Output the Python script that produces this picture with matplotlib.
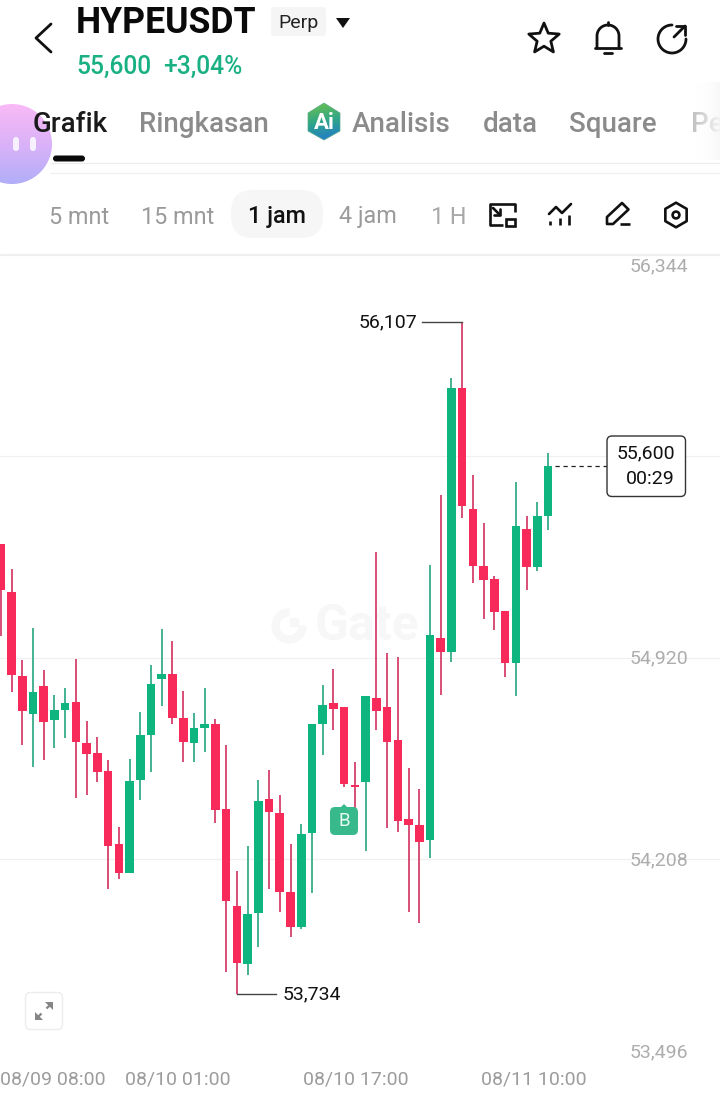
import numpy as np
import matplotlib
matplotlib.use("Agg")
import matplotlib.pyplot as plt
from matplotlib.patches import Circle, Polygon, FancyBboxPatch, Rectangle, Wedge
from matplotlib.colors import LinearSegmentedColormap

plt.rcParams['font.family'] = ['Roboto', 'DejaVu Sans']

# ---------- data ----------
opens = [55323, 55153, 54856, 54722, 54821, 54701, 54736, 54764, 54620, 54584,
         54521, 54263, 54160, 54489, 54648, 54846, 54863, 54708, 54620, 54673,
         54687, 54386, 54044, 53839, 54019, 54422, 54372, 54093, 53970, 54302,
         54687, 54761, 54747, 54471, 54482, 54779, 54747, 54630, 54351, 54330,
         54277, 54991, 54941, 55874, 55446, 55245, 55199, 55086, 54902, 55376,
         55241, 55422]
closes = [55160, 54860, 54733, 54800, 54694, 54736, 54761, 54623, 54581, 54517,
          54256, 54160, 54485, 54648, 54828, 54863, 54708, 54623, 54673, 54687,
          54383, 54061, 53842, 54015, 54415, 54376, 54093, 53970, 54298, 54687,
          54754, 54740, 54475, 54468, 54786, 54733, 54623, 54344, 54330, 54270,
          55001, 54941, 55874, 55457, 55245, 55196, 55083, 54902, 55386, 55241,
          55422, 55600]
highs = [55323, 55234, 54913, 55026, 54878, 54789, 54814, 54916, 54697, 54641,
         54560, 54323, 54563, 54729, 54895, 55022, 54980, 54803, 54726, 54814,
         54704, 54613, 54167, 54256, 54489, 54524, 54436, 54263, 54333, 54687,
         54825, 54881, 54747, 54553, 54786, 55295, 54938, 54923, 54531, 54457,
         55249, 55496, 55909, 56107, 55567, 55397, 55210, 55086, 55542, 55422,
         55471, 55644]
lows = [54998, 54800, 54613, 54535, 54560, 54602, 54637, 54425, 54436, 54482,
        54104, 54139, 54160, 54418, 54517, 54750, 54687, 54553, 54553, 54588,
        54337, 53810, 53734, 53800, 53899, 54104, 54023, 53934, 53962, 54090,
        54577, 54666, 54464, 54390, 54238, 54666, 54319, 54305, 54023, 53984,
        54213, 54789, 54906, 55415, 55185, 55058, 55019, 54853, 54786, 55160,
        55227, 55372]
price_ticks = [56344, 55632, 54920, 54208, 53496]
price_labels = ['56,344', '', '54,920', '54,208', '53,496']
time_positions = [4.86, 16.5, 33.1, 49.7]
time_labels = ['08/09 08:00', '08/10 01:00', '08/10 17:00', '08/11 10:00']
high_index, low_index = 43, 22
last_price = 55600

GREEN = '#0fb57e'
RED = '#f72a5a'
GREEN_W = '#35ad88'
RED_W = '#d4406c'

W, H = 720, 1094
fig = plt.figure(figsize=(W / 100, H / 100), dpi=100, facecolor='white')

# ---------- pixel-based overlay for the app chrome ----------
ui = fig.add_axes([0, 0, 1, 1], zorder=5)
ui.patch.set_alpha(0)
ui.axis('off')


def line(pts, lw=1.9, c='#111111', **kw):
    xs, ys = zip(*pts)
    ui.plot(xs, ys, lw=lw, color=c, solid_capstyle=kw.pop('cap', 'round'),
            solid_joinstyle='round', **kw)


def arc(cx, cy, r, a0, a1):
    t = np.radians(np.linspace(a0, a1, 60))
    return list(zip(cx + r * np.cos(t), cy + r * np.sin(t)))


def txt(x, y, s, size, c='#111111', ha='left', weight='normal', **kw):
    return ui.text(x, y, s, fontsize=size, color=c, ha=ha, va='center',
                   fontweight=weight, **kw)


# ---------- chart ----------
top_px, bot_px = 255, 1061
ax = fig.add_axes([0, 1 - bot_px / H, 1, (bot_px - top_px) / H], zorder=2)
ax.patch.set_alpha(0)
idx = np.arange(len(opens))
xmin = -0.8 / 10.73
ax.set_xlim(xmin, xmin + W / 10.73)
ax.set_ylim(price_ticks[-1], price_ticks[0])
for s in ax.spines.values():
    s.set_visible(False)
ax.set_yticks(price_ticks[:-1])
ax.set_yticklabels([])
ax.tick_params(axis='y', length=0)
ax.grid(axis='y', color='#f0f0f0', lw=0.9)
ax.set_axisbelow(True)
ax.set_xticks(time_positions)
ax.set_xticklabels(time_labels, fontsize=14, color='#9c9c9c')
ax.tick_params(axis='x', length=0, pad=6.8)

o, c, h, l = map(np.array, (opens, closes, highs, lows))
up = c >= o
ax.vlines(idx[up], l[up], h[up], color=GREEN_W, lw=1.3, zorder=3)
ax.vlines(idx[~up], l[~up], h[~up], color=RED_W, lw=1.3, zorder=3)
ax.bar(idx[up], (c - o)[up], bottom=o[up], width=0.8, color=GREEN, zorder=4)
ax.bar(idx[~up], (c - o)[~up], bottom=o[~up], width=0.8, color=RED, zorder=4)
# near-flat body
flat = np.abs(c - o) < 8
ax.hlines(c[flat], idx[flat] - 0.4, idx[flat] + 0.4,
          color=[GREEN if u else RED for u in up[flat]], lw=1.4, zorder=4)

# extreme labels
ax.plot([high_index, high_index - 3.7], [highs[high_index]] * 2, color='#444444', lw=1.0, zorder=3)
ax.annotate('56,107', (high_index - 3.7, highs[high_index]), xytext=(-4.0, -0.3),
            textcoords='offset points', ha='right', va='center', fontsize=14, color='#111111')
ax.plot([low_index, low_index + 3.65], [lows[low_index]] * 2, color='#444444', lw=1.0, zorder=3)
ax.annotate('53,734', (low_index + 3.65, lows[low_index]), xytext=(4.4, -0.8),
            textcoords='offset points', ha='left', va='center', fontsize=14, color='#111111')

# axis labels on the right (the outer two are pushed into the chart)
offsets_px = [11, 0, 0, 0, -9.5]
for p, lab, off in zip(price_ticks, price_labels, offsets_px):
    if lab:
        ax.annotate(lab, (688 / W, p), xycoords=('axes fraction', 'data'),
                    xytext=(0, -off * 0.72 - 0.4), textcoords='offset points',
                    ha='right', va='center', fontsize=14, color='#adadad',
                    annotation_clip=False, zorder=1)

# last-price guide
ax.plot([(555 - 0.8) / 10.73, (607 - 0.8) / 10.73], [last_price] * 2, color='#222222',
        lw=0.9, ls=(0, (3.4, 3)), zorder=3)

# watermark (sits behind candles)
wm = '#f7f7f7'
ax.add_patch(Wedge((289, 626), 17, 0, 270, width=7, color=wm, transform=ui.transData, zorder=0))
ax.add_patch(Rectangle((290, 618), 8, 8, color=wm, transform=ui.transData, zorder=0))
ax.text(315, 627, 'Gate', fontsize=36, fontweight='bold', color=wm, va='center', ha='left',
        transform=ui.transData, zorder=0)

# ---------- header ----------
line([(51, 24), (36, 38), (51, 52)], lw=2.0)
txt(76, 23, 'HYPEUSDT', 25.7, weight='bold', c='#0a0a0a')
ui.add_patch(FancyBboxPatch((271, 7), 55, 29, boxstyle='round,pad=0,rounding_size=3',
                            fc='#f5f5f5', ec='none'))
txt(298, 23, 'Perp', 14, ha='center', c='#222222')
ui.add_patch(Polygon([(336, 18), (350, 18), (343, 28)], fc='#111111', ec='none'))
txt(76, 67, '55,600', 17.7, c='#19b183', weight='medium')
txt(163, 67, '+3,04%', 17.7, c='#19b183', weight='medium')

# star
ang = np.radians(np.arange(10) * 36 - 90)
rad = np.where(np.arange(10) % 2 == 0, 16, 7.2)
ui.add_patch(Polygon(list(zip(544 + rad * np.cos(ang), 39 + rad * np.sin(ang))),
                     fc='none', ec='#111111', lw=2.0, joinstyle='round'))
# bell
bell = [(597, 48)] + arc(608, 36, 11, 180, 360) + [(619, 48)]
line(bell, lw=2.0)
line([(595, 48), (621, 48)], lw=2.0)
line([(604, 52.5), (612, 52.5)], lw=2.0)
line([(608, 22), (608, 24.5)], lw=2.0)
# share
line(arc(672, 39, 14, 0, 270), lw=2.0)
line([(674, 37), (685, 26)], lw=2.0)
line([(676, 26), (685, 26), (685, 35)], lw=2.0)

# tabs
txt(33, 125, 'Grafik', 20, c='#1a1a1a', weight='medium', zorder=5)
txt(139, 125, 'Ringkasan', 20, c='#8b8b8b', weight='medium')
txt(352, 125, 'Analisis', 20, c='#8b8b8b', weight='medium')
txt(483, 125, 'data', 20, c='#8b8b8b', weight='medium')
txt(569, 125, 'Square', 20, c='#8b8b8b', weight='medium')
txt(691, 125, 'Pe', 20, c='#c4c4c4', weight='medium')
fade = np.linspace(0, 1, 40).reshape(1, -1)
ui.imshow(fade, extent=(695, 720, 160, 82), aspect='auto', zorder=3,
          cmap=LinearSegmentedColormap.from_list('f', [(1, 1, 1, 0), (0.97, 0.97, 0.97, 0.9)]))

# AI hexagon
ai_cmap = LinearSegmentedColormap.from_list('ai', ['#6cc24a', '#2fa58a', '#2176d2'])
gy, gx = np.mgrid[0:1:50j, 0:1:50j]
ai_im = ui.imshow(0.85 * gy + 0.15 * gx, extent=(307, 341, 140, 103),
                  aspect='auto', cmap=ai_cmap, zorder=3)
ai_hex = Polygon([(324, 103), (340, 113), (340, 131), (324, 140), (308, 131), (308, 113)],
                 closed=True, transform=ui.transData, fc='none', ec='#55aa88', lw=0.5,
                 joinstyle='round', zorder=3)
ui.add_patch(ai_hex)
ai_im.set_clip_path(ai_hex)
txt(324, 123, 'Ai', 16, c='white', ha='center', weight='bold', zorder=4)

# floating bubble
bub_cmap = LinearSegmentedColormap.from_list('b', ['#f9b6f6', '#d9aef8', '#adaaf8'])
bub_im = ui.imshow(np.linspace(0, 1, 80).reshape(-1, 1), extent=(-30, 54, 184, 104),
                   aspect='auto', cmap=bub_cmap, zorder=3, alpha=0.95)
bub = Circle((12, 144), 40, transform=ui.transData, fc='none', ec='none')
ui.add_patch(bub)
bub_im.set_clip_path(bub)
for bx in (16, 33):
    ui.add_patch(FancyBboxPatch((bx - 3, 137), 6, 14, boxstyle='round,pad=0,rounding_size=3',
                                fc='#f6f0ff', ec='none', zorder=4))

ui.add_patch(FancyBboxPatch((53, 155.5), 32, 6, boxstyle='round,pad=0,rounding_size=3',
                            fc='#0a0a0a', ec='none'))
line([(50, 162.5), (720, 162.5)], lw=0.9, c='#eeeeee', cap='butt')
line([(50, 173), (720, 173)], lw=0.9, c='#f0f0f0', cap='butt')

# timeframes
ui.add_patch(FancyBboxPatch((231, 190), 92, 48, boxstyle='round,pad=0,rounding_size=22',
                            fc='#f6f6f6', ec='none'))
txt(49, 217, '5 mnt', 16.8, c='#9a9a9a')
txt(141, 217, '15 mnt', 16.8, c='#9a9a9a')
txt(248, 216, '1 jam', 16.8, c='#111111', weight='medium')
txt(339, 216, '4 jam', 16.8, c='#9a9a9a')
t1h = txt(431, 217, '1 H', 16.8, c='#a8a8a8')
t1h.set_clip_path(Rectangle((425, 195), 40, 40, transform=ui.transData))
line([(0, 254), (720, 254)], lw=0.9, c='#efefef', cap='butt')

# tool icons
line([(515, 212), (515, 203.5), (489.5, 203.5), (489.5, 225), (503, 225)], lw=1.9, cap='butt')
ui.add_patch(Rectangle((505.5, 219), 9.5, 6.5, fc='none', ec='#111111', lw=1.9))
line([(493, 208), (500, 215)], lw=1.9)
line([(500, 209), (500, 215), (494, 215)], lw=1.9)
line([(549, 214), (556, 207), (562, 213), (571, 204)], lw=1.9)
line([(550, 221), (550, 225)], lw=1.9, cap='butt')
line([(560, 218), (560, 225)], lw=1.9, cap='butt')
line([(569, 215), (569, 225)], lw=1.9, cap='butt')
ui.add_patch(Polygon([(607, 224), (607, 217), (622, 203), (628.5, 209.5), (613, 224)],
                     fc='none', ec='#111111', lw=1.9, joinstyle='round'))
line([(620, 224), (630, 224)], lw=1.9, cap='butt')
ah = np.radians(np.arange(6) * 60 - 90)
ui.add_patch(Polygon(list(zip(676 + 12.3 * np.cos(ah), 215 + 12.3 * np.sin(ah))),
                     fc='none', ec='#111111', lw=1.9, joinstyle='round'))
ui.add_patch(Circle((676, 215), 3.4, fc='none', ec='#111111', lw=1.9))

# price box
ui.add_patch(FancyBboxPatch((607, 436), 78.5, 60.5, boxstyle='round,pad=0,rounding_size=5',
                            fc='white', ec='#333333', lw=1.0, zorder=6))
txt(675, 453, '55,600', 14, ha='right', zorder=7)
txt(675, 479, '00:29', 14, ha='right', zorder=7)

# B badge
ui.add_patch(FancyBboxPatch((330, 807), 28, 28, boxstyle='round,pad=0,rounding_size=5',
                            fc='#37b98c', ec='none', zorder=6))
ui.add_patch(Polygon([(340, 808), (344, 804), (348, 808)], fc='#37b98c', ec='none', zorder=6))
txt(344, 821, 'B', 13.5, c='#eafaf4', ha='center', zorder=7)

# expand button
ui.add_patch(FancyBboxPatch((25.5, 992.5), 37, 37, boxstyle='round,pad=0,rounding_size=5',
                            fc='white', ec='#ececec', lw=1.0))
ui.add_patch(Polygon([(53, 1002), (45, 1002), (53, 1010)], fc='#858585', ec='none'))
ui.add_patch(Polygon([(35, 1020), (43, 1020), (35, 1012)], fc='#858585', ec='none'))
line([(51, 1004), (46.5, 1008.5)], lw=1.6, c='#858585', cap='butt')
line([(37, 1018), (41.5, 1013.5)], lw=1.6, c='#858585', cap='butt')

ui.set_xlim(0, W)
ui.set_ylim(H, 0)

fig.savefig('out.png', dpi=100, facecolor='white')
